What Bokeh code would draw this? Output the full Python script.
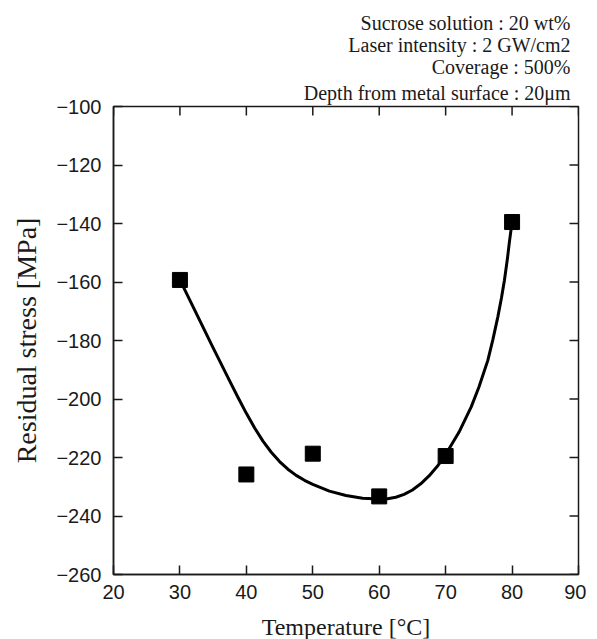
import math
from bokeh.plotting import figure
from bokeh.models import FixedTicker, Range1d, Title
from bokeh.embed import file_html
from bokeh.resources import INLINE

# Measured data
temperature = [30, 40, 50, 60, 70, 80]
stress = [-159.3, -225.8, -218.7, -233.3, -219.5, -139.5]

# Fitted curve
curve_t = [30, 32.5, 35, 37.5, 38.75, 40, 41.25, 42.5, 43.75, 45, 46.25,
           47.5, 48.75, 50, 52.5, 55, 57.5, 60, 61.25, 62.5, 63.75, 65,
           66.25, 67.5, 68.75, 70, 72, 73.85, 75, 76.35, 77.1, 77.85, 78.4,
           78.85, 79.3, 79.6, 80]
curve_s = [-159.3, -170.9, -182.5, -193.9, -199.5, -204.9, -209.9, -214.4,
           -218.2, -221.4, -224.0, -226.1, -227.8, -229.2, -231.5, -233.0,
           -233.9, -234.2, -234.1, -233.6, -232.6, -231.1, -229.0, -226.3,
           -223.0, -219.0, -211.4, -202.7, -196.0, -186.8, -179.8, -172.0,
           -165.5, -159.4, -152.0, -146.3, -139.5]

x_ticks = [20, 30, 40, 50, 60, 70, 80, 90]
y_ticks = [-260, -240, -220, -200, -180, -160, -140, -120, -100]

notes = ["Sucrose solution : 20 wt%",
         "Laser intensity : 2 GW/cm2",
         "Coverage : 500%",
         "Depth from metal surface : 20\u03bcm"]

serif = "Liberation Serif"
sans = "Liberation Sans"
ink = "#1a1a1a"

p = figure(frame_width=465, frame_height=468, output_backend="svg",
           toolbar_location=None, x_range=Range1d(20, 90),
           y_range=Range1d(-260, -100),
           min_border_left=113, min_border_top=106, min_border_right=8,
           min_border_bottom=20, x_axis_label="Temperature [\u00b0C]",
           y_axis_label="Residual stress [MPa]")
p.background_fill_color = "white"
p.border_fill_color = "white"
p.grid.visible = False
p.outline_line_color = ink
p.outline_line_width = 1.5

for ax, ticks in ((p.xaxis[0], x_ticks), (p.yaxis[0], y_ticks)):
    ax.ticker = FixedTicker(ticks=ticks)
    ax.minor_tick_line_color = None
    ax.major_tick_in = 9
    ax.major_tick_out = 0
    ax.major_tick_line_width = 1.5
    ax.major_tick_line_color = ink
    ax.axis_line_color = ink
    ax.axis_line_width = 1.5
    ax.major_label_overrides = {t: str(t).replace("-", "\u2212") for t in ticks}
    ax.major_label_text_font = sans
    ax.major_label_text_font_size = "20px"
    ax.major_label_text_color = ink
    ax.axis_label_text_font = serif
    ax.axis_label_text_font_style = "normal"
    ax.axis_label_text_color = ink

p.xaxis[0].axis_label_text_font_size = "24px"
p.yaxis[0].axis_label_text_font_size = "28px"
p.xaxis[0].major_label_standoff = 10
p.xaxis[0].axis_label_standoff = 12
p.yaxis[0].major_label_standoff = 12
p.yaxis[0].axis_label_standoff = 11

# inward ticks on the top and right frame edges (half of each dash is clipped)
p.scatter([90] * len(y_ticks), y_ticks, marker="dash", size=18,
          line_color=ink, line_width=1.5)
p.scatter(x_ticks, [-100] * len(x_ticks), marker="dash", size=18,
          angle=math.pi / 2, line_color=ink, line_width=1.5)

for i, line in enumerate(reversed(notes)):
    t = Title(text=line, align="right", text_font=serif, text_font_size="20px",
              text_font_style="normal", text_color=ink,
              standoff=6 if i == 0 else -2, offset=8)
    p.add_layout(t, "above")

p.line(curve_t, curve_s, line_color="black", line_width=3, line_join="round")
p.scatter(temperature, stress, marker="square", size=15, fill_color="black",
          line_color="black")

open("out.html", "w").write(file_html(p, INLINE))
